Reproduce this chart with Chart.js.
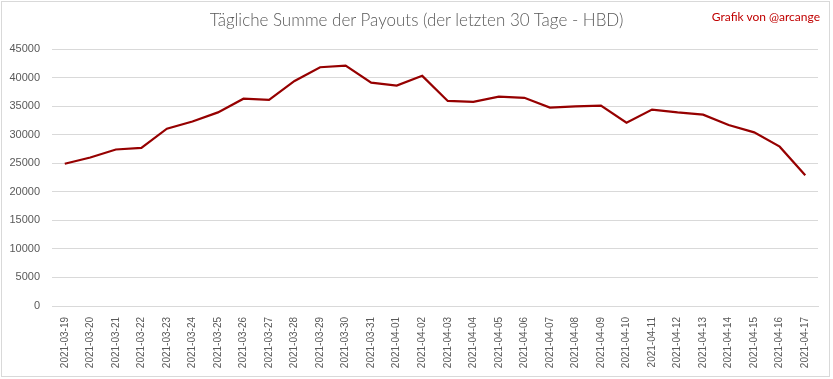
<!DOCTYPE html>
<html>
<head>
<meta charset="utf-8">
<script src="https://cdn.jsdelivr.net/npm/chart.js@4/dist/chart.umd.min.js"></script>
<style>
  body { margin: 0; background: #fff; }
  #wrap { position: relative; width: 833px; height: 379px; }
  #frame { position: absolute; left: 1px; top: 1px; width: 829px; height: 376px; border: 1px solid #d9d9d9; box-sizing: border-box; }
  #title { position: absolute; left: 0; width: 833px; top: 9px; text-align: center; font-family: "Lato", sans-serif; font-size: 17px; font-weight: 300; color: #595959; }
  #credit { position: absolute; right: 13px; top: 9px; font-family: "Lato", sans-serif; font-size: 12px; color: #c00000; }
  canvas { position: absolute; left: 0; top: 0; }
</style>
</head>
<body>
<div id="wrap">
  <div id="frame"></div>
  <canvas id="chart" width="833" height="379"></canvas>
  <div id="title">Tägliche Summe der Payouts (der letzten 30 Tage - HBD)</div>
  <div id="credit">Grafik von @arcange</div>
</div>
<script>
// Data
const days = [
  "2021-03-19", "2021-03-20", "2021-03-21", "2021-03-22", "2021-03-23",
  "2021-03-24", "2021-03-25", "2021-03-26", "2021-03-27", "2021-03-28",
  "2021-03-29", "2021-03-30", "2021-03-31", "2021-04-01", "2021-04-02",
  "2021-04-03", "2021-04-04", "2021-04-05", "2021-04-06", "2021-04-07",
  "2021-04-08", "2021-04-09", "2021-04-10", "2021-04-11", "2021-04-12",
  "2021-04-13", "2021-04-14", "2021-04-15", "2021-04-16", "2021-04-17"
];
const payouts = [
  24900, 26000, 27400, 27700, 31050,
  32300, 33900, 36300, 36100, 39400,
  41800, 42100, 39100, 38600, 40300,
  35900, 35750, 36650, 36450, 34750,
  34950, 35100, 32100, 34400, 33900,
  33500, 31700, 30400, 27900, 22900
];
const yMax = 45000;
const yStep = 5000;

const ctx = document.getElementById("chart").getContext("2d");
new Chart(ctx, {
  type: "line",
  data: {
    labels: days,
    datasets: [{
      data: payouts,
      borderColor: "#960000",
      borderWidth: 2.2,
      pointRadius: 0,
      tension: 0,
      fill: false
    }]
  },
  options: {
    responsive: false,
    animation: false,
    layout: { padding: { top: 49, left: 0, right: 15, bottom: 0 } },
    plugins: {
      legend: { display: false },
      tooltip: { enabled: false }
    },
    scales: {
      x: {
        offset: true,
        grid: { display: false, drawTicks: false },
        border: { color: "#d9d9d9" },
        ticks: {
          autoSkip: false,
          maxRotation: 90,
          minRotation: 90,
          padding: 11,
          color: "#595959",
          font: { family: "Liberation Sans", size: 10 }
        },
        afterFit: s => { s.height = 73; }
      },
      y: {
        min: 0,
        max: yMax,
        grid: { color: "#d9d9d9", drawTicks: false },
        border: { display: false },
        ticks: {
          stepSize: yStep,
          padding: 12,
          color: "#595959",
          font: { family: "Liberation Sans", size: 11 },
          callback: v => String(v)
        },
        afterFit: s => { s.width = 52; }
      }
    }
  }
});
</script>
</body>
</html>
